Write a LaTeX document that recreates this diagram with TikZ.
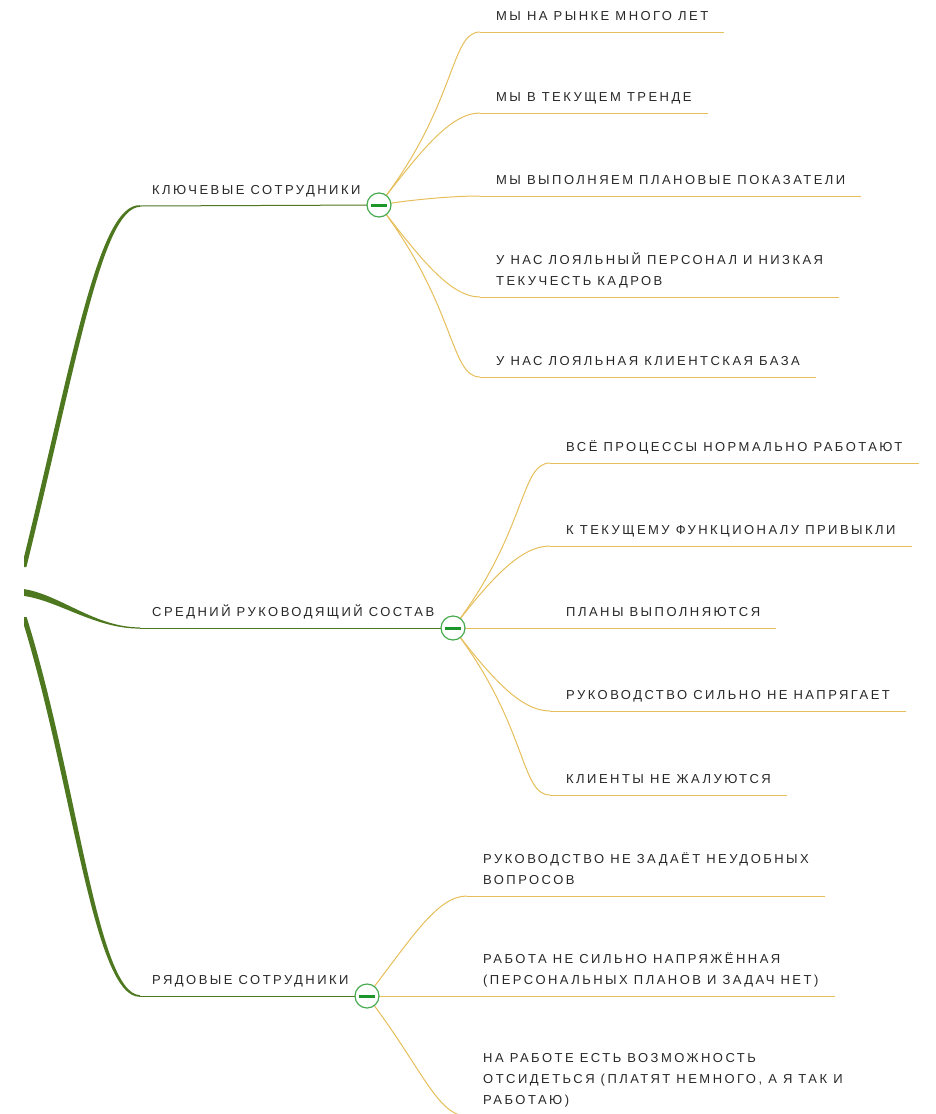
\documentclass[tikz,border=0pt]{standalone}
\usepackage{fontspec}
\setmainfont{Liberation Sans}[LetterSpace=19]
\definecolor{branchgreen}{RGB}{78,120,32}
\definecolor{leafgold}{RGB}{230,190,90}
\definecolor{btngreen}{RGB}{70,170,80}
\definecolor{bargreen}{RGB}{28,150,40}
\definecolor{labelgray}{RGB}{40,40,40}

\tikzset{
  topic/.style={anchor=south west, inner xsep=12pt, inner ysep=4.6pt, text=labelgray,
    font=\fontsize{13}{21}\selectfont, execute at end node=\strut},
  leaf/.style={topic, inner xsep=16pt, align=left},
  leafline/.style={leafgold, line width=1pt},
  topicline/.style={branchgreen, line width=1pt},
  btn/.style={circle, draw=btngreen, line width=1.2pt, fill=white, minimum size=24pt, inner sep=0pt,
    path picture={\draw[bargreen, line width=3pt] ([xshift=-8pt]path picture bounding box.center)
      -- ([xshift=8pt]path picture bounding box.center);}}
}

\begin{document}
\begin{tikzpicture}[x=1pt,y=-1pt]
\useasboundingbox (0,0) rectangle (936,1114);

\coordinate (k0) at (24,567);
\coordinate (m0) at (24,592.5);
\coordinate (r0) at (24,617);
\coordinate (kc) at (379,205);
\coordinate (mc) at (453,628);
\coordinate (rc) at (367,996);

\node[topic] (kl) at (140,206) {КЛЮЧЕВЫЕ СОТРУДНИКИ};
\node[topic] (ml) at (140,628) {СРЕДНИЙ РУКОВОДЯЩИЙ СОСТАВ};
\node[topic] (rl) at (140,996) {РЯДОВЫЕ СОТРУДНИКИ};

\node[leaf] (k1) at (480,32) {МЫ НА РЫНКЕ МНОГО ЛЕТ};
\node[leaf] (k2) at (480,113) {МЫ В ТЕКУЩЕМ ТРЕНДЕ};
\node[leaf] (k3) at (480,196) {МЫ ВЫПОЛНЯЕМ ПЛАНОВЫЕ ПОКАЗАТЕЛИ};
\node[leaf] (k4) at (480,297) {У НАС ЛОЯЛЬНЫЙ ПЕРСОНАЛ И НИЗКАЯ\\ТЕКУЧЕСТЬ КАДРОВ};
\node[leaf] (k5) at (480,377) {У НАС ЛОЯЛЬНАЯ КЛИЕНТСКАЯ БАЗА};

\node[leaf] (m1) at (550,463) {ВСЁ ПРОЦЕССЫ НОРМАЛЬНО РАБОТАЮТ};
\node[leaf] (m2) at (550,546) {К ТЕКУЩЕМУ ФУНКЦИОНАЛУ ПРИВЫКЛИ};
\node[leaf] (m3) at (550,628) {ПЛАНЫ ВЫПОЛНЯЮТСЯ};
\node[leaf] (m4) at (550,711) {РУКОВОДСТВО СИЛЬНО НЕ НАПРЯГАЕТ};
\node[leaf] (m5) at (550,795) {КЛИЕНТЫ НЕ ЖАЛУЮТСЯ};

\node[leaf] (r1) at (467,896) {РУКОВОДСТВО НЕ ЗАДАЁТ НЕУДОБНЫХ\\ВОПРОСОВ};
\node[leaf] (r2) at (467,996) {РАБОТА НЕ СИЛЬНО НАПРЯЖЁННАЯ\\(ПЕРСОНАЛЬНЫХ ПЛАНОВ И ЗАДАЧ НЕТ)};
\node[leaf] (r3) at (467,1116) {НА РАБОТЕ ЕСТЬ ВОЗМОЖНОСТЬ\\ОТСИДЕТЬСЯ (ПЛАТЯТ НЕМНОГО, А Я ТАК И\\РАБОТАЮ)};

\foreach \n in {k1,k2,k3,k4,k5,m1,m2,m3,m4,m5,r1,r2,r3}
  \draw[leafline] (\n.south west) -- (\n.south east);

\draw[leafline] (kc) .. controls +(78,-100) and +(-30,0) .. (k1.south west);
\draw[leafline] (kc) .. controls +(41,-53) and +(-30,0) .. (k2.south west);
\draw[leafline] (kc) .. controls +(30,-5) and +(-30,0) .. (k3.south west);
\draw[leafline] (kc) .. controls +(41,53) and +(-30,0) .. (k4.south west);
\draw[leafline] (kc) .. controls +(77,100) and +(-30,0) .. (k5.south west);

\draw[leafline] (mc) .. controls +(74,-96) and +(-30,0) .. (m1.south west);
\draw[leafline] (mc) .. controls +(37,-48) and +(-30,0) .. (m2.south west);
\draw[leafline] (mc) -- (m3.south west);
\draw[leafline] (mc) .. controls +(37,48) and +(-30,0) .. (m4.south west);
\draw[leafline] (mc) .. controls +(75,97) and +(-30,0) .. (m5.south west);

\draw[leafline] (rc) .. controls +(45,-58) and +(-30,0) .. (r1.south west);
\draw[leafline] (rc) -- (r2.south west);
\draw[leafline] (rc) .. controls +(54,70) and +(-30,0) .. (r3.south west);

\draw[topicline] (kl.south west) -- (kc);
\draw[topicline] (ml.south west) -- (mc);
\draw[topicline] (rl.south west) -- (rc);

\begin{scope}
\clip (24,0) rectangle (936,1114);
\fill[branchgreen] ([xshift=-2.4pt]k0) .. controls +(51,-207) and +(-42,-1.5) .. ([yshift=0.8pt]kl.south west)
  -- ([yshift=-0.8pt]kl.south west) .. controls +(-38,1.5) and +(51,-207) .. ([xshift=2.4pt]k0) -- cycle;
\fill[branchgreen] ([yshift=3.4pt]m0) .. controls +(36,5.5) and +(-45,0) .. ([yshift=0.6pt]ml.south west)
  -- ([yshift=-0.6pt]ml.south west) .. controls +(-45,0) and +(36,5.5) .. ([yshift=-3.4pt]m0) -- cycle;
\fill[branchgreen] ([xshift=2.6pt]r0) .. controls +(51,163) and +(-43,-1.5) .. ([yshift=0.8pt]rl.south west)
  -- ([yshift=-0.8pt]rl.south west) .. controls +(-47,1.5) and +(51,163) .. ([xshift=-2.6pt]r0) -- cycle;
\end{scope}

\node[btn] (kbtn) at (kc) {};
\node[btn] (mbtn) at (mc) {};
\node[btn] (rbtn) at (rc) {};
\end{tikzpicture}
\end{document}
